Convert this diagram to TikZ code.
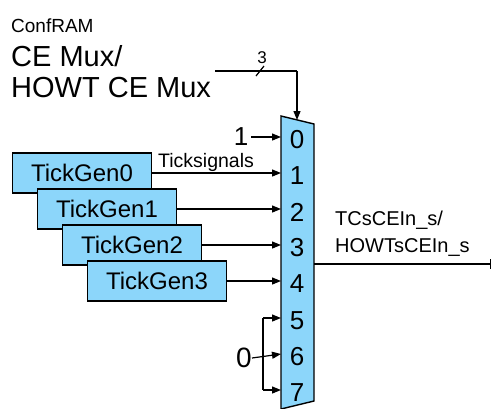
\documentclass[tikz,border=0pt]{standalone}
\usepackage{fontspec}
\setmainfont{Liberation Sans}
\usetikzlibrary{arrows.meta}
\definecolor{muxblue}{RGB}{140,214,250}
\begin{document}
\begin{tikzpicture}[x=1pt,y=-1pt,
  arr/.style={line width=1.2pt,-{Triangle[length=9pt,width=7pt]}},
  wire/.style={line width=1.2pt},
  tg/.style={draw,line width=1.4pt,fill=muxblue,minimum width=139pt,minimum height=40pt,inner sep=0pt,font=\fontsize{24}{28}\selectfont},
  pin/.style={font=\fontsize{26}{30}\selectfont,inner sep=0pt},
  txt/.style={inner sep=0pt,anchor=base west}]
\useasboundingbox (0,0) rectangle (492,408);
\begin{scope}
\clip (0,0) rectangle (492,408);
% mux body
\draw[line width=1.4pt,fill=muxblue] (281,116) -- (314,124) -- (314,401) -- (281,409) -- cycle;
\end{scope}
% pin coordinates
\foreach \i/\y in {0/137,1/173,2/209,3/245,4/281,5/318,6/354,7/390}{
  \coordinate (in\i) at (281,\y);
  \node[pin] (n\i) at (297,\y+3) {\i};
}
\coordinate (sel) at (297,120);
\coordinate (out) at (314,264);
\coordinate (outend) at (491,264);
% titles
\node[txt,font=\fontsize{19}{22}\selectfont] (t1) at (11,32) {ConfRAM};
\node[txt,font=\fontsize{29}{34}\selectfont] (t2) at (11,66) {CE Mux/};
\node[txt,font=\fontsize{29}{34}\selectfont] (t3) at (11,97) {HOWT CE Mux};
% select bus
\coordinate (busstart) at (215,71);
\coordinate (buscorner) at (297,71);
\draw[wire] (busstart) -- (buscorner);
\draw[arr] (buscorner) -- (sel);
\coordinate (slash) at (260,71);
\draw[wire] ([shift={(-4,5)}]slash) -- ([shift={(4,-5)}]slash);
\node[inner sep=0pt,font=\fontsize{17}{20}\selectfont] (three) at (262,58) {3};
% input 0 constant
\node[pin] (one) at (241,137) {1};
\draw[arr] ([xshift=3pt]one.east) -- (in0);
% tick generators
\node[tg] (g0) at (82,173) {TickGen0};
\node[tg] (g1) at (107,209) {TickGen1};
\node[tg] (g2) at (132,245) {TickGen2};
\node[tg] (g3) at (157,281) {TickGen3};
\draw[arr] (g0.east) -- (in1);
\draw[arr] (g1.east) -- (in2);
\draw[arr] (g2.east) -- (in3);
\draw[arr] (g3.east) -- (in4);
\node[txt,font=\fontsize{19.5}{22}\selectfont] (ts) at (158,167) {Ticksignals};
% constant zero
\node[pin,font=\fontsize{28}{32}\selectfont] (zero) at (244,358) {0};
\coordinate (bt) at (263,318);
\coordinate (bb) at (263,390);
\draw[wire] (bt) -- (bb);
\draw[arr] (zero.east) -- (in6);
\draw[arr] (bt) -- (in5);
\draw[arr] (bb) -- (in7);
% output
\draw[line width=1.2pt,-{Bar[width=10pt,line width=1.2pt]}] (out) -- (outend);
\node[txt,font=\fontsize{20}{24}\selectfont] (o1) at (335,225) {TCsCEIn\_s/};
\node[txt,font=\fontsize{20}{24}\selectfont] (o2) at (335,252) {HOWTsCEIn\_s};
\end{tikzpicture}
\end{document}
